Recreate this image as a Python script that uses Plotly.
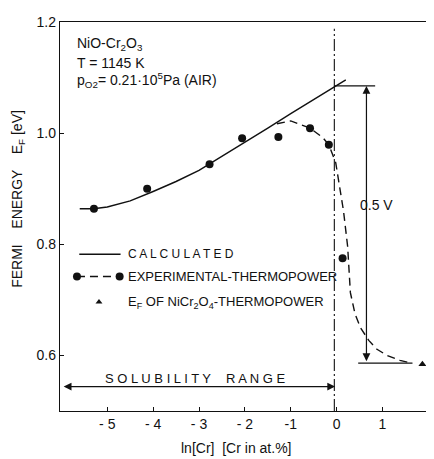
import plotly.graph_objects as go

# Data
calc_x = [-5.6, -5.3, -5.0, -4.5, -4.0, -3.5, -3.0, -2.5, -2.0, -1.5, -1.0, -0.5, 0.0, 0.2]
calc_y = [0.864, 0.864, 0.867, 0.878, 0.895, 0.913, 0.933, 0.958, 0.984, 1.009, 1.035, 1.060, 1.086, 1.096]

exp_x = [-5.29, -4.13, -2.77, -2.06, -1.27, -0.58, -0.17, 0.13]
exp_y = [0.864, 0.900, 0.944, 0.991, 0.993, 1.009, 0.979, 0.775]

expfit_x = [-1.30, -1.0, -0.58, -0.30, -0.17, -0.02, 0.15, 0.24, 0.30, 0.40, 0.52, 0.70, 0.88, 1.10, 1.38, 1.65]
expfit_y = [1.017, 1.022, 1.009, 0.992, 0.979, 0.947, 0.860, 0.796, 0.713, 0.675, 0.650, 0.627, 0.611, 0.600, 0.591, 0.586]

spinel_x = [1.87]
spinel_y = [0.584]

x_ticks = [-5, -4, -3, -2, -1, 0, 1]
x_ticktext = ["- 5", "- 4", "- 3", "- 2", "-1", "0", "1"]
y_ticks = [0.6, 0.8, 1.0, 1.2]
y_ticktext = ["0.6", "0.8", "1.0", "1.2"]

FONT = "Liberation Sans"
BLK = "#111111"

fig = go.Figure()

# calculated line
fig.add_trace(go.Scatter(x=calc_x, y=calc_y, mode="lines",
                         line=dict(color=BLK, width=1.4), showlegend=False))
# experimental fit (dashed)
fig.add_trace(go.Scatter(x=expfit_x, y=expfit_y, mode="lines",
                         line=dict(color=BLK, width=1.4, dash="8px,5px"), showlegend=False))
# experimental points
fig.add_trace(go.Scatter(x=exp_x, y=exp_y, mode="markers",
                         marker=dict(color=BLK, size=8), showlegend=False))
# spinel triangle
fig.add_trace(go.Scatter(x=spinel_x, y=spinel_y, mode="markers",
                         marker=dict(color=BLK, size=7, symbol="triangle-up"), showlegend=False))

# Manual legend
fig.add_trace(go.Scatter(x=[-5.61, -4.71], y=[0.782, 0.782], mode="lines",
                         line=dict(color=BLK, width=1.4), showlegend=False))
fig.add_trace(go.Scatter(x=[-5.66, -4.73], y=[0.742, 0.742], mode="lines+markers",
                         line=dict(color=BLK, width=1.4, dash="8px,5px"),
                         marker=dict(color=BLK, size=8), showlegend=False))
fig.add_trace(go.Scatter(x=[-5.18], y=[0.696], mode="markers",
                         marker=dict(color=BLK, size=6, symbol="triangle-up"), showlegend=False))

ann = []
def txt(x, y, s, size=13, xanchor="left"):
    ann.append(dict(x=x, y=y, xref="x", yref="y", text=s, showarrow=False,
                    xanchor=xanchor, yanchor="middle",
                    font=dict(family=FONT, size=size, color=BLK)))

txt(-4.6, 0.782, "C A L C U L A T E D", size=12)
txt(-4.6, 0.742, "EXPERIMENTAL-THERMOPOWER")
txt(-4.6, 0.696, "E<sub>F</sub> OF NiCr<sub>2</sub>O<sub>4</sub>-THERMOPOWER")
txt(-5.7, 1.161, "NiO-Cr<sub>2</sub>O<sub>3</sub>", size=14)
txt(-5.7, 1.127, "T = 1145 K", size=14)
txt(-5.7, 1.096, "p<sub>O2</sub>= 0.21·10<sup>5</sup>Pa (AIR)", size=14)
txt(0.47, 0.870, "0.5 V", size=14)
txt(-5.1, 0.559, "S O L U B I L I T Y")
txt(-2.45, 0.559, "R A N G E")

# solubility double arrow
ann.append(dict(x=-5.95, y=0.544, ax=0.0, ay=0.544, xref="x", yref="y", axref="x", ayref="y",
                showarrow=True, arrowhead=2, arrowsize=1.3, arrowwidth=1.2, arrowcolor=BLK,
                arrowside="end+start", text=""))
# 0.5 V double arrow
ann.append(dict(x=0.65, y=1.085, ax=0.65, ay=0.587, xref="x", yref="y", axref="x", ayref="y",
                showarrow=True, arrowhead=2, arrowsize=1.3, arrowwidth=1.2, arrowcolor=BLK,
                arrowside="end+start", text=""))

# axis titles
ann.append(dict(x=-0.115, y=0.545, xref="paper", yref="paper",
                text="FERMI    ENERGY    E<sub>F</sub> [eV]",
                showarrow=False, textangle=-90, xanchor="center", yanchor="middle",
                font=dict(family=FONT, size=14, color=BLK)))
ann.append(dict(x=0.48, y=-0.095, xref="paper", yref="paper", text="ln[Cr]  [Cr in at.%]",
                showarrow=False, xanchor="center", yanchor="middle",
                font=dict(family=FONT, size=14, color=BLK)))

shapes = [
    # vertical dash-dot boundary at x=0
    dict(type="line", x0=-0.05, x1=-0.05, y0=0.5, y1=1.188, xref="x", yref="y",
         line=dict(color=BLK, width=1.1, dash="12px,3px,2px,3px")),
    # horizontal tie lines for 0.5 V
    dict(type="line", x0=-0.05, x1=0.84, y0=1.085, y1=1.085, xref="x", yref="y",
         line=dict(color=BLK, width=1.2)),
    dict(type="line", x0=0.47, x1=1.65, y0=0.586, y1=0.586, xref="x", yref="y",
         line=dict(color=BLK, width=1.2)),
]

fig.update_layout(
    width=426, height=451,
    margin=dict(l=52, r=6, t=6, b=48),
    paper_bgcolor="white", plot_bgcolor="white",
    annotations=ann, shapes=shapes,
    font=dict(family=FONT, size=13, color=BLK),
)
fig.update_xaxes(range=[-6.03, 1.97], tickvals=x_ticks, ticktext=x_ticktext,
                 showgrid=False, zeroline=False, showline=True, linecolor=BLK, linewidth=1.3,
                 mirror=True, ticks="inside", ticklen=4, tickcolor=BLK,
                 tickfont=dict(family=FONT, size=14, color=BLK))
fig.update_yaxes(range=[0.5, 1.2], tickvals=y_ticks, ticktext=y_ticktext,
                 showgrid=False, zeroline=False, showline=True, linecolor=BLK, linewidth=1.3,
                 mirror=True, ticks="inside", ticklen=4, tickcolor=BLK,
                 ticklabeloverflow="allow",
                 tickfont=dict(family=FONT, size=14, color=BLK))

fig.write_html("out.html")
